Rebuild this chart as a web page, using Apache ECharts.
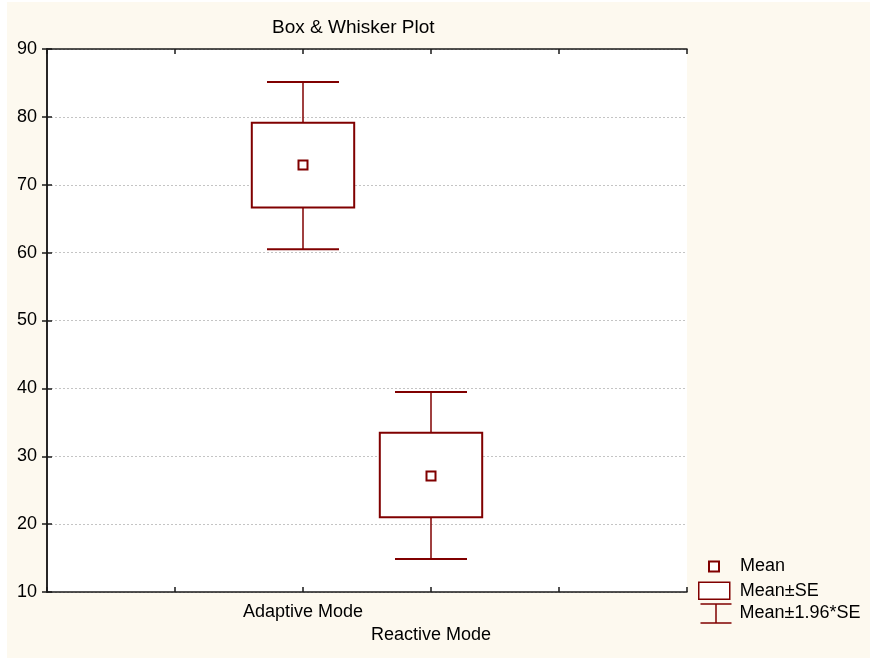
<!DOCTYPE html>
<html>
<head>
<meta charset="utf-8">
<script src="https://cdn.jsdelivr.net/npm/echarts@6/dist/echarts.min.js"></script>
<style>
html,body{margin:0;padding:0;background:#ffffff;}
#chart{position:absolute;left:7px;top:2px;width:863px;height:656px;}
</style>
</head>
<body>
<div id="chart"></div>
<script>
// ---- data ----
const categories = ['Adaptive Mode', 'Reactive Mode'];
const catPos = [2, 3];
const means = [72.9, 27.1];
const seLow = [66.65, 21.0];
const seHigh = [79.15, 33.45];
const ciLow = [60.5, 14.85];
const ciHigh = [85.15, 39.45];
const yMin = 10, yMax = 90, yStep = 10;
const xMin = 0, xMax = 5, xStep = 1;

const RED = '#800000';
const FONT = 'Liberation Sans, Arial, sans-serif';

const chart = echarts.init(document.getElementById('chart'));

const boxData = catPos.map((x, i) => [x, seLow[i], seHigh[i]]);
const ciData = catPos.map((x, i) => [x, ciLow[i], ciHigh[i]]);
const meanData = catPos.map((x, i) => [x, means[i]]);

function renderBox(params, api) {
  const x = api.value(0), lo = api.value(1), hi = api.value(2);
  const pHi = api.coord([x, hi]);
  const pLo = api.coord([x, lo]);
  const w = api.size([0.8, 0])[0];
  return {
    type: 'rect',
    shape: { x: pHi[0] - w / 2, y: pHi[1], width: w, height: pLo[1] - pHi[1] },
    style: { fill: '#ffffff', stroke: RED, lineWidth: 2 }
  };
}

function renderWhisker(params, api) {
  const x = api.value(0), lo = api.value(1), hi = api.value(2);
  const pHi = api.coord([x, hi]);
  const pLo = api.coord([x, lo]);
  const cw = api.size([0.5625, 0])[0];
  return {
    type: 'group',
    children: [
      { type: 'line', shape: { x1: pHi[0], y1: pHi[1], x2: pLo[0], y2: pLo[1] }, style: { stroke: RED, lineWidth: 1.5 } },
      { type: 'line', shape: { x1: pHi[0] - cw / 2, y1: pHi[1], x2: pHi[0] + cw / 2, y2: pHi[1] }, style: { stroke: RED, lineWidth: 2 } },
      { type: 'line', shape: { x1: pLo[0] - cw / 2, y1: pLo[1], x2: pLo[0] + cw / 2, y2: pLo[1] }, style: { stroke: RED, lineWidth: 2 } }
    ]
  };
}

const axisLineStyle = { color: '#1a1a1a', width: 1.5 };
const tickStyle = { show: true, inside: true, length: 5, lineStyle: { color: '#1a1a1a', width: 1.5 } };

const option = {
  backgroundColor: '#fdf9ef',
  animation: false,
  textStyle: { fontFamily: FONT },
  title: {
    text: 'Box & Whisker Plot',
    left: 265,
    top: 16,
    padding: 0,
    textStyle: { fontSize: 19, fontWeight: 'normal', color: '#000', fontFamily: FONT }
  },
  grid: { left: 40, right: 183, top: 47, bottom: 66, show: true, backgroundColor: '#ffffff', borderWidth: 0 },
  xAxis: [
    {
      type: 'value', min: xMin, max: xMax, interval: xStep, position: 'bottom',
      axisLine: { show: true, lineStyle: axisLineStyle },
      axisTick: tickStyle,
      splitLine: { show: false },
      axisLabel: {
        margin: 11,
        color: '#000',
        fontSize: 18,
        fontFamily: FONT,
        formatter: function (v) {
          const i = catPos.indexOf(v);
          if (i < 0) return '';
          return i === 0 ? '{a|' + categories[i] + '}' : '{b|' + categories[i] + '}';
        },
        rich: {
          a: { fontSize: 18, color: '#000', fontFamily: FONT },
          b: { fontSize: 18, color: '#000', fontFamily: FONT, padding: [23, 0, 0, 0] }
        }
      }
    },
    {
      type: 'value', min: xMin, max: xMax, interval: xStep, position: 'top',
      axisLine: { show: true, lineStyle: axisLineStyle },
      axisTick: tickStyle,
      splitLine: { show: false },
      axisLabel: { show: false }
    }
  ],
  yAxis: [
    {
      type: 'value', min: yMin, max: yMax, interval: yStep, position: 'left',
      axisLine: { show: true, lineStyle: axisLineStyle },
      axisTick: tickStyle,
      splitLine: { show: true, lineStyle: { color: '#c4c4c4', type: [2, 2], width: 1 } },
      axisLabel: { margin: 10, color: '#000', fontSize: 18, fontFamily: FONT }
    },
    {
      type: 'value', min: yMin, max: yMax, interval: yStep, position: 'right',
      axisLine: { show: true, lineStyle: axisLineStyle },
      axisTick: tickStyle,
      splitLine: { show: false },
      axisLabel: { show: false }
    }
  ],
  legend: [
    {
      selectedMode: false, orient: 'vertical', left: 701, top: 555.5, padding: 0,
      itemWidth: 10, itemHeight: 10,
      textStyle: { fontSize: 18, color: '#000', fontFamily: FONT, padding: [0, 0, 0, 16] },
      data: [{ name: 'Mean', icon: 'rect', itemStyle: { color: '#ffffff', borderColor: RED, borderWidth: 2 } }]
    },
    {
      selectedMode: false, orient: 'vertical', left: 691, top: 579.5, padding: 0,
      itemWidth: 31, itemHeight: 17,
      textStyle: { fontSize: 18, color: '#000', fontFamily: FONT, padding: [0, 0, 0, 5] },
      data: [{ name: 'Mean±SE', icon: 'rect', itemStyle: { color: '#ffffff', borderColor: RED, borderWidth: 1.5 } }]
    },
    {
      selectedMode: false, orient: 'vertical', left: 691, top: 599.5, padding: 0,
      itemWidth: 31, itemHeight: 19,
      textStyle: { fontSize: 18, color: '#000', fontFamily: FONT, padding: [0, 0, 0, 3] },
      data: [{ name: 'Mean±1.96*SE', icon: 'path://M0,0L31,0M15.5,0L15.5,19M0,19L31,19', itemStyle: { color: 'none', borderColor: RED, borderWidth: 1.5 } }]
    }
  ],
  series: [
    { name: 'Mean±1.96*SE', type: 'custom', xAxisIndex: 0, yAxisIndex: 0, renderItem: renderWhisker, data: ciData, z: 2, itemStyle: { color: RED } },
    { name: 'Mean±SE', type: 'custom', xAxisIndex: 0, yAxisIndex: 0, renderItem: renderBox, data: boxData, z: 3, itemStyle: { color: RED } },
    { name: 'Mean', type: 'scatter', xAxisIndex: 0, yAxisIndex: 0, data: meanData, symbol: 'rect', symbolSize: 9, z: 4,
      itemStyle: { color: '#ffffff', borderColor: RED, borderWidth: 2, opacity: 1 } }
  ]
};

chart.setOption(option);
</script>
</body>
</html>
